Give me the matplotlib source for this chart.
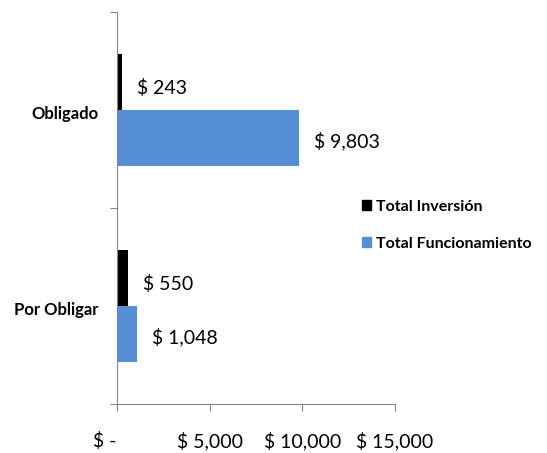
import matplotlib.pyplot as plt
from matplotlib.patches import Patch

categories = ['Por Obligar', 'Obligado']
inversion = [550, 243]
funcionamiento = [1048, 9803]
x_ticks = [0, 5000, 10000, 15000]
x_tick_labels = ['$ -     ', '$ 5,000', '$ 10,000', '$ 15,000']

BLACK = '#000000'
BLUE = '#558ED5'
AXIS = '#868686'

plt.rcParams['font.family'] = ['Lato', 'DejaVu Sans']

fig = plt.figure(figsize=(5.47, 4.53), dpi=100)
ax = fig.add_axes([0.2148, 0.1082, 0.5073, 0.8653])

h = 0.286
pos = list(range(len(categories)))
ax.barh([p + h / 2 for p in pos], inversion, height=h, color=BLACK, label='Total Inversión')
ax.barh([p - h / 2 for p in pos], funcionamiento, height=h, color=BLUE, label='Total Funcionamiento')

for p, v in zip(pos, inversion):
    ax.annotate(f'$ {v:,}', (v, p + h / 2), xytext=(11, -4), textcoords='offset points',
                va='center', ha='left', fontsize=14)
for p, v in zip(pos, funcionamiento):
    ax.annotate(f'$ {v:,}', (v, p - h / 2), xytext=(11, -2), textcoords='offset points',
                va='center', ha='left', fontsize=14)

ax.set_xlim(0, 15000)
ax.set_ylim(-0.5, 1.5)
ax.set_xticks(x_ticks)
ax.set_xticklabels(x_tick_labels)
ax.tick_params(axis='x', direction='out', length=5, color=AXIS, pad=15, labelsize=14)

ax.set_yticks([-0.5, 0.5, 1.5])
ax.set_yticklabels([])
ax.tick_params(axis='y', which='major', direction='out', length=5, color=AXIS)
ax.set_yticks([p - 0.015 for p in pos], minor=True)
ax.set_yticklabels(categories, minor=True)
ax.tick_params(axis='y', which='minor', length=0, pad=14, labelsize=12)
for t in ax.get_yticklabels(minor=True):
    t.set_fontweight('bold')

for s in ['top', 'right']:
    ax.spines[s].set_visible(False)
for s in ['left', 'bottom']:
    ax.spines[s].set_color(AXIS)

handles = [Patch(color=BLACK, label='Total Inversión'),
           Patch(color=BLUE, label='Total Funcionamiento')]
fig.legend(handles=handles, loc='center left', bbox_to_anchor=(0.635, 0.503),
           frameon=False, prop={'weight': 'bold', 'size': 11.5},
           handlelength=0.6, handleheight=0.6, handletextpad=0.3, labelspacing=1.45)

fig.savefig('out.png', dpi=100, facecolor='white')
